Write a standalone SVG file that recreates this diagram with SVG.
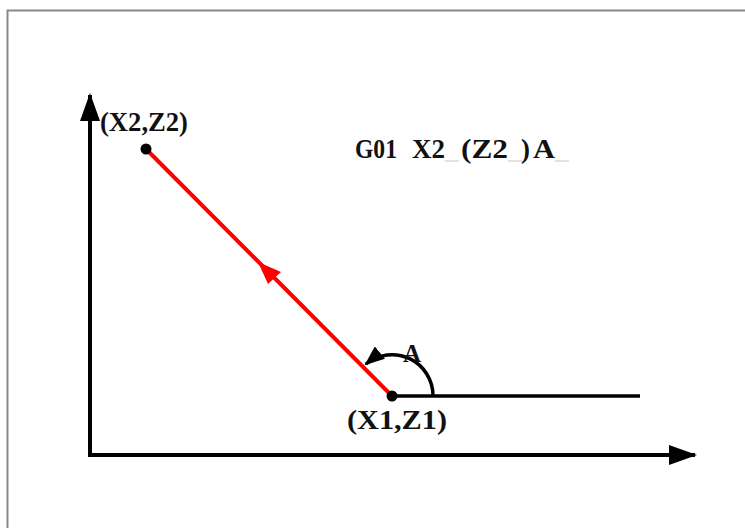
<svg xmlns="http://www.w3.org/2000/svg" width="745" height="528" viewBox="0 0 745 528">
<style>
.lbl{font-family:"Liberation Serif","Times New Roman",serif;font-weight:bold;fill:#111;}
.ax{stroke:#000;stroke-width:4;fill:none;}
.us{fill:#e2e2e2;}
</style>
<defs>
<marker id="ah" markerUnits="userSpaceOnUse" markerWidth="28" markerHeight="20" refX="26" refY="10" orient="auto">
<path d="M0,0 L28,10 L0,20 Z" fill="#000"/>
</marker>
<marker id="ahs" markerUnits="userSpaceOnUse" markerWidth="20" markerHeight="16" refX="18" refY="8" orient="auto">
<path d="M0,0 L20,8 L0,16 Z" fill="#000"/>
</marker>
</defs>
<rect width="745" height="528" fill="#fff"/>
<path d="M7.5,528 V10.5 H745" stroke="#888" stroke-width="2" fill="none"/>
<g id="connectors">
<line class="ax" x1="90" y1="455" x2="90" y2="95" marker-end="url(#ah)"/>
<line class="ax" x1="88" y1="455" x2="695" y2="455" marker-end="url(#ah)"/>
<line x1="392" y1="396" x2="640" y2="396" stroke="#000" stroke-width="3.5"/>
<line x1="392" y1="396" x2="146" y2="149" stroke="#f00" stroke-width="4"/>
<path d="M258,262 L281,272 L268,284 Z" fill="#f00"/>
<path d="M433,396 A41,41 0 0 0 366,364" stroke="#000" stroke-width="3.5" fill="none" marker-end="url(#ahs)"/>
</g>
<g id="p2">
<circle cx="146" cy="149" r="5.5" fill="#000"/>
<text class="lbl" x="100" y="131" font-size="27" textLength="88" lengthAdjust="spacingAndGlyphs">(X2,Z2)</text>
</g>
<g id="p1">
<circle cx="392" cy="396" r="5.5" fill="#000"/>
<text class="lbl" x="347" y="429" font-size="27" textLength="100" lengthAdjust="spacingAndGlyphs">(X1,Z1)</text>
</g>
<g id="angle">
<text class="lbl" x="412" y="362" font-size="25" text-anchor="middle">A</text>
</g>
<g id="cmd">
<text class="lbl" y="158" font-size="27"><tspan x="355" textLength="42" lengthAdjust="spacingAndGlyphs">G01</tspan><tspan x="412" textLength="33" lengthAdjust="spacingAndGlyphs">X2</tspan><tspan class="us">_</tspan><tspan x="461" textLength="47" lengthAdjust="spacingAndGlyphs">(Z2</tspan><tspan class="us">_</tspan><tspan x="521">)</tspan><tspan x="533" textLength="22" lengthAdjust="spacingAndGlyphs">A</tspan><tspan class="us">_</tspan></text>
</g>
</svg>
